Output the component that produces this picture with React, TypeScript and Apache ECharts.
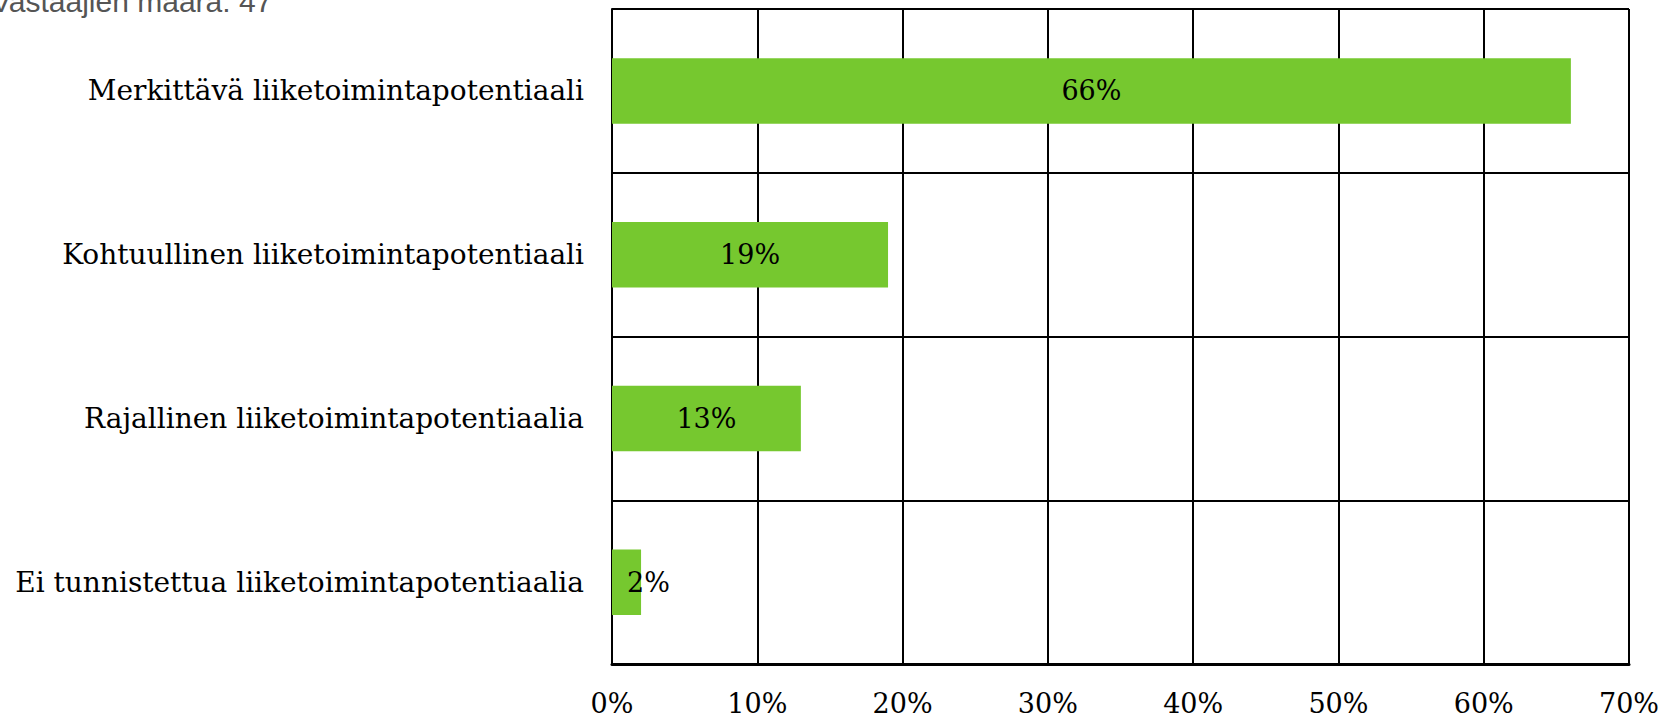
import React, { useEffect, useRef } from "react";
import * as echarts from "echarts";

const categories = [
  "Ei tunnistettua liiketoimintapotentiaalia",
  "Rajallinen liiketoimintapotentiaalia",
  "Kohtuullinen liiketoimintapotentiaali",
  "Merkittävä liiketoimintapotentiaali",
];
const shares = [2, 13, 19, 66];
const respondents = 47;
const xTicks = { min: 0, max: 70, interval: 10 };

const SERIF = "'DejaVu Serif', 'Liberation Serif', serif";

export default function App() {
  const ref = useRef<HTMLDivElement>(null);

  useEffect(() => {
    if (!ref.current) return;
    const chart = echarts.init(ref.current, undefined, { renderer: "svg" });
    chart.setOption({
      animation: false,
      grid: { left: 612, right: 34, top: 9, bottom: 57, containLabel: false },
      graphic: [
        {
          type: "text",
          left: -9,
          top: -14,
          style: {
            text: `Vastaajien määrä: ${respondents}`,
            fill: "#555555",
            font: "30px 'Liberation Sans', Arial, sans-serif",
          },
        },
      ],
      xAxis: {
        type: "value",
        min: xTicks.min,
        max: xTicks.max,
        interval: xTicks.interval,
        axisLine: { show: true, lineStyle: { color: "#000", width: 3 } },
        axisTick: { show: false },
        splitLine: { show: true, lineStyle: { color: "#000", width: 2 } },
        axisLabel: {
          formatter: "{value}%",
          color: "#000",
          fontFamily: SERIF,
          fontSize: 27,
          margin: 26,
        },
      },
      yAxis: {
        type: "category",
        data: categories,
        boundaryGap: true,
        axisLine: { show: true, lineStyle: { color: "#000", width: 2 } },
        axisTick: { show: false },
        splitLine: { show: true, lineStyle: { color: "#000", width: 2 } },
        axisLabel: {
          color: "#000",
          fontFamily: SERIF,
          fontSize: 28,
          margin: 28,
        },
      },
      series: [
        {
          type: "bar",
          barWidth: "40%",
          itemStyle: { color: "#76c82f" },
          data: shares.map((v) =>
            v < 5
              ? { value: v, label: { position: "insideLeft", distance: 15 } }
              : { value: v }
          ),
          label: {
            show: true,
            position: "inside",
            formatter: "{c}%",
            color: "#000",
            fontFamily: SERIF,
            fontSize: 27,
          },
        },
      ],
    });
    return () => chart.dispose();
  }, []);

  return (
    <div
      ref={ref}
      style={{ position: "fixed", left: 0, top: 0, width: 1663, height: 721, background: "#fff" }}
    />
  );
}
